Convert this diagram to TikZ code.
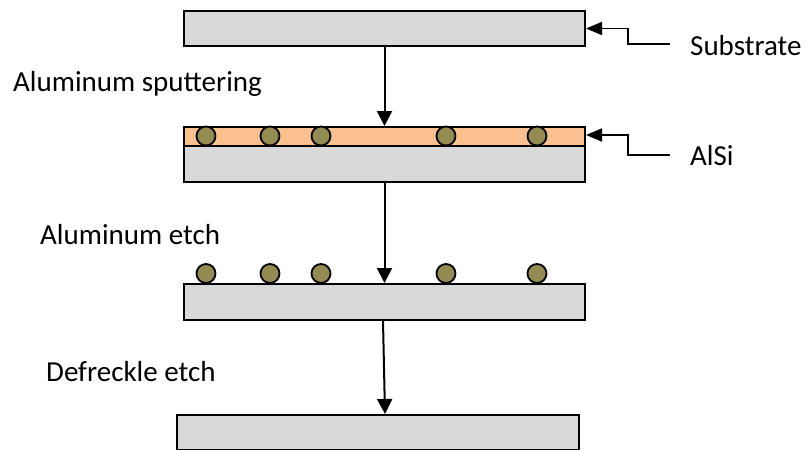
\documentclass[tikz,border=0pt]{standalone}
\usepackage{fontspec}
\setmainfont{Carlito}
\usetikzlibrary{arrows.meta}
\definecolor{wafer}{HTML}{D9D9D9}
\definecolor{alsi}{HTML}{FAC090}
\definecolor{grain}{HTML}{948A54}
\begin{document}
\begin{tikzpicture}[x=1pt,y=-1pt,
  layer/.style={draw=black,line width=2pt,inner sep=0pt,anchor=north west},
  grainc/.style={circle,draw=black,fill=grain,line width=1.8pt,minimum size=19pt,inner sep=0pt},
  arr/.style={line width=2pt,-{Triangle[length=15pt,width=15pt]}},
  lead/.style={line width=1.8pt,-{Triangle[length=16pt,width=13pt]}},
  lbl/.style={font=\fontsize{29}{35}\selectfont,inner sep=0pt,anchor=base west}]
\useasboundingbox (0,0) rectangle (809,450);
% wafers
\node[layer,fill=wafer,minimum width=401pt,minimum height=35pt] (r1) at (183,10) {};
\node[layer,fill=alsi,minimum width=401pt,minimum height=19pt] (al) at (183,126) {};
\node[layer,fill=wafer,minimum width=401pt,minimum height=36pt] (r2) at (183,145) {};
\node[layer,fill=wafer,minimum width=401pt,minimum height=36pt] (r3) at (183,283) {};
\node[layer,fill=wafer,minimum width=402pt,minimum height=35pt] (r4) at (176,414) {};
% grains in AlSi
\foreach \x [count=\i] in {206,270,321,446,537}
  \node[grainc] (g\i) at (\x,136) {};
% grains after etch
\foreach \x [count=\i] in {206,270,321,446,537}
  \node[grainc] (h\i) at (\x,273.5) {};
% process arrows
\draw[arr] (r1.south) -- (al.north);
\draw[arr] (r2.south) -- (r3.north);
\draw[arr] ([xshift=-1.5pt]r3.south) -- ([xshift=7pt]r4.north);
% labels
\node[lbl] (tsub) at (690,55) {Substrate};
\node[lbl] (talsi) at (690,165) {AlSi};
\node[lbl] (tspu) at (13,91) {Aluminum sputtering};
\node[lbl] (tetch) at (40,244) {Aluminum etch};
\node[lbl] (tdef) at (46,381) {Defreckle etch};
% leaders
\coordinate (c1) at (670,44);
\coordinate (c2) at (670,155);
\draw[lead] (c1) -- (628,44) |- (r1.east);
\draw[lead] (c2) -- (628,155) |- ([yshift=1.5pt]al.east);
\end{tikzpicture}
\end{document}
